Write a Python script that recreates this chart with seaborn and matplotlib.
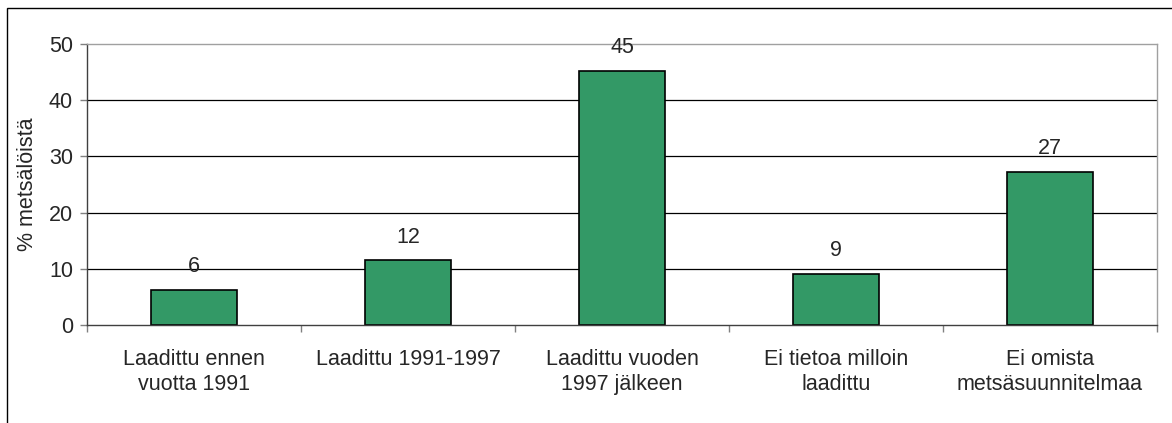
import numpy as np
import pandas as pd
import matplotlib
matplotlib.use('Agg')
import matplotlib.pyplot as plt
import matplotlib.patches as patches
import seaborn as sns

# values
categories = ['Laadittu ennen\nvuotta 1991', 'Laadittu 1991-1997',
              'Laadittu vuoden\n1997 jälkeen', 'Ei tietoa milloin\nlaadittu',
              'Ei omista\nmetsäsuunnitelmaa']
shares = [6.3, 11.5, 45.2, 9.1, 27.3]
value_labels = ['6', '12', '45', '9', '27']
y_ticks = [0, 10, 20, 30, 40, 50]

sns.set_style('white')
plt.rcParams['font.family'] = ['Liberation Sans', 'DejaVu Sans']
fs = 15.5

df = pd.DataFrame({'category': categories, 'share': shares})

fig = plt.figure(figsize=(11.72, 4.23), dpi=100)
ax = fig.add_axes([87 / 1172, 98 / 423, 1070 / 1172, 281 / 423])

sns.barplot(data=df, x='category', y='share', color='#339966',
            saturation=1, width=0.4, edgecolor='black', linewidth=1.2, ax=ax)

ax.set_ylim(0, 50)
ax.set_xlim(-0.5, len(categories) - 0.5)
ax.set_yticks(y_ticks)
ax.set_yticklabels([str(t) for t in y_ticks], fontsize=fs)

# horizontal gridlines (50 is drawn by the grey frame)
for t in y_ticks[1:-1]:
    ax.axhline(t, color='black', lw=0.9, zorder=0)

# category separators as ticks, labels centred under the bars
ax.set_xticks(np.arange(len(categories) + 1) - 0.5, minor=True)
ax.tick_params(axis='x', which='minor', length=5, width=1, color='#808080',
               direction='out', bottom=True)
ax.tick_params(axis='x', which='major', length=0, pad=17, labelsize=fs)
for lbl in ax.get_xticklabels():
    lbl.set_linespacing(1.3)
ax.tick_params(axis='y', length=5, width=1, color='#808080', direction='out',
               left=True, pad=5)
ax.set_xlabel('')
ax.set_ylabel('% metsälöistä', fontsize=fs, labelpad=8)

for side in ['top', 'right']:
    ax.spines[side].set_color('#a0a0a0')
    ax.spines[side].set_linewidth(1)
for side in ['left', 'bottom']:
    ax.spines[side].set_color('#404040')
    ax.spines[side].set_linewidth(1)

ax.bar_label(ax.containers[0], labels=value_labels, padding=9, fontsize=fs)

# outer frame of the chart area
frame = patches.Rectangle((7 / 1172, -0.1), 1.2, 0.1 + 415 / 423,
                          transform=fig.transFigure, fill=False,
                          edgecolor='black', lw=1, clip_on=False)
fig.patches.append(frame)

plt.savefig('out.png', dpi=100)
plt.close(fig)
